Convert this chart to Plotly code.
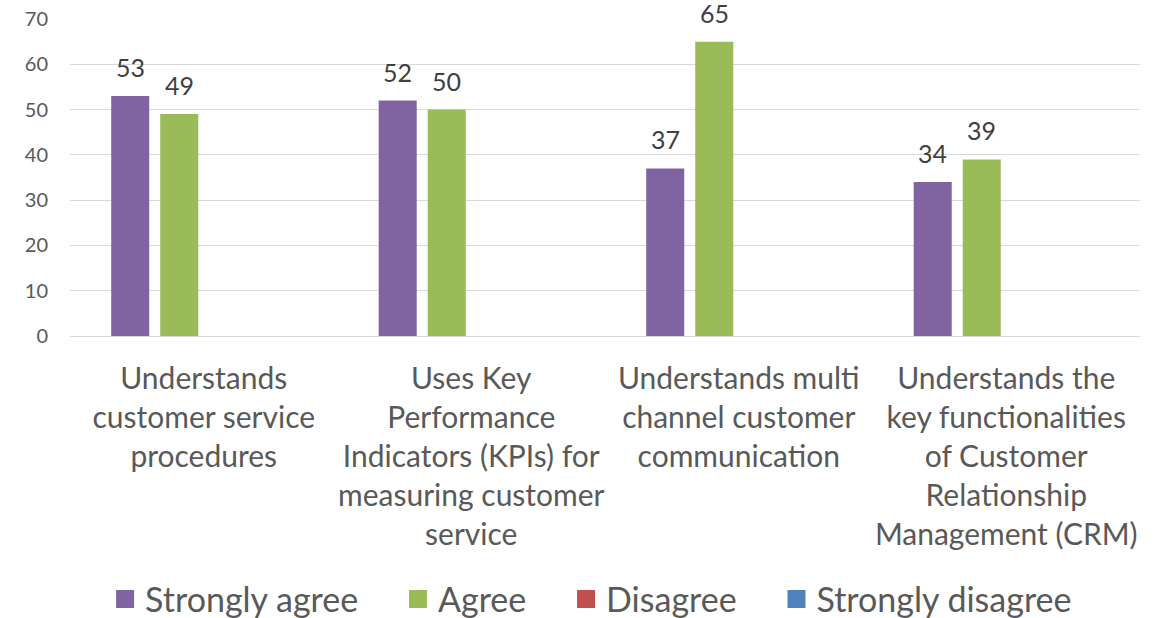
import plotly.graph_objects as go

# chart data
categories = [
    "Understands<br>customer service<br>procedures",
    "Uses Key<br>Performance<br>Indicators (KPIs) for<br>measuring customer<br>service",
    "Understands multi<br>channel customer<br>communication",
    "Understands the<br>key functionalities<br>of Customer<br>Relationship<br>Management (CRM)",
]
series_names = ["Strongly agree", "Agree", "Disagree", "Strongly disagree"]
strongly_agree = [53, 52, 37, 34]
agree = [49, 50, 65, 39]
disagree = [None, None, None, None]
strongly_disagree = [None, None, None, None]
y_ticks = [0, 10, 20, 30, 40, 50, 60, 70]

COLORS = ['#8064A2', '#9BBB59', '#C0504D', '#4F81BD']
FONT = "Lato, Calibri, sans-serif"
TEXT = '#595959'
BARGAP = 0.267
GROUPGAP = 0.224

all_series = [strongly_agree, agree, disagree, strongly_disagree]
n_series = len(all_series)

fig = go.Figure()
for k, (name, vals, col) in enumerate(zip(series_names, all_series, COLORS)):
    fig.add_trace(go.Bar(
        x=categories, y=vals, name=name,
        marker=dict(color=col, line=dict(width=0)),
        showlegend=False,
    ))
    # legend proxy with a larger square symbol; pad name for Excel-like spacing
    label = name if k == n_series - 1 else name + "\u00a0" * 4
    fig.add_trace(go.Scatter(
        x=[None], y=[None], mode='markers', name=label,
        marker=dict(symbol='square', size=16, color=col,
                    line=dict(width=2, color=col)),
    ))

# data labels, placed over each bar slot of the group
slot = (1 - BARGAP) / n_series
for k, vals in enumerate(all_series):
    for i, v in enumerate(vals):
        if v is None:
            continue
        fig.add_annotation(
            x=i + (k - (n_series - 1) / 2) * slot, y=v,
            text=str(v), showarrow=False,
            yanchor='bottom', yshift=12,
            font=dict(family=FONT, size=25, color='#404040'),
        )

fig.update_layout(
    width=1163, height=618,
    margin=dict(l=70, r=23, t=19, b=282),
    plot_bgcolor='white', paper_bgcolor='white',
    font=dict(family=FONT, color=TEXT),
    barmode='group', bargap=BARGAP, bargroupgap=GROUPGAP,
    legend=dict(
        orientation='h', x=0.487, xanchor='center',
        yref='container', y=0.03, yanchor='middle',
        font=dict(family=FONT, size=34, color=TEXT),
        itemsizing='trace',
    ),
)
fig.update_xaxes(
    showline=True, linecolor='#D9D9D9', linewidth=1,
    tickfont=dict(family=FONT, size=30, color=TEXT),
    tickangle=0, ticks='', ticklabelstandoff=16,
    automargin=False,
)
fig.update_yaxes(
    range=[0, 70], tickvals=y_ticks,
    showgrid=True, gridcolor='#D9D9D9', gridwidth=1,
    zeroline=False, showline=False,
    tickfont=dict(family=FONT, size=20, color=TEXT),
    ticklabelstandoff=21, ticklabeloverflow='allow',
    automargin=False,
)

# drop the default 8px page margin so the figure fills the window
fig.write_html("out.html", config={'displayModeBar': False},
               post_script="document.body.style.margin = '0';")
